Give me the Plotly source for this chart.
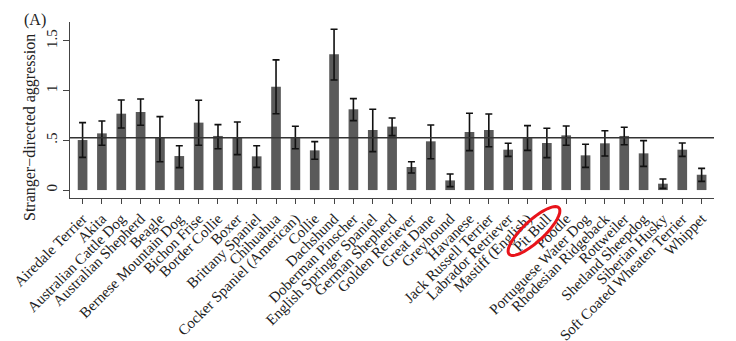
import numpy as np
import plotly.graph_objects as go

breeds = ["Airedale Terrier", "Akita", "Australian Cattle Dog", "Australian Shepherd", "Beagle",
          "Bernese Mountain Dog", "Bichon Frise", "Border Collie", "Boxer", "Brittany Spaniel",
          "Chihuahua", "Cocker Spaniel (American)", "Collie", "Dachshund", "Doberman Pinscher",
          "English Springer Spaniel", "German Shepherd", "Golden Retriever", "Great Dane", "Greyhound",
          "Havanese", "Jack Russell Terrier", "Labrador Retriever", "Mastiff (English)", "Pit Bull",
          "Poodle", "Portuguese Water Dog", "Rhodesian Ridgeback", "Rottweiler", "Shetland Sheepdog",
          "Siberian Husky", "Soft Coated Wheaten Terrier", "Whippet"]
means = [0.503, 0.570, 0.768, 0.785, 0.527, 0.342, 0.678, 0.544, 0.527, 0.339,
         1.040, 0.523, 0.399, 1.366, 0.812, 0.604, 0.638, 0.232, 0.490, 0.097,
         0.584, 0.604, 0.406, 0.523, 0.473, 0.550, 0.349, 0.470, 0.544, 0.369,
         0.064, 0.406, 0.154]
upper = [0.678, 0.695, 0.906, 0.916, 0.738, 0.446, 0.903, 0.658, 0.685, 0.446,
         1.309, 0.641, 0.487, 1.617, 0.919, 0.812, 0.725, 0.285, 0.654, 0.161,
         0.772, 0.765, 0.470, 0.648, 0.621, 0.644, 0.460, 0.597, 0.631, 0.497,
         0.111, 0.473, 0.218]
lower = [0.329, 0.450, 0.624, 0.651, 0.285, 0.225, 0.450, 0.416, 0.356, 0.228,
         0.768, 0.416, 0.309, 1.107, 0.698, 0.386, 0.547, 0.171, 0.315, 0.034,
         0.396, 0.436, 0.339, 0.399, 0.326, 0.450, 0.228, 0.342, 0.456, 0.238,
         0.017, 0.339, 0.087]
overall_mean = 0.527
ytick_vals = [0, 0.5, 1, 1.5]
ytick_text = ["0", ".5", "1", "1.5"]

err_plus = [u - m for u, m in zip(upper, means)]
err_minus = [m - l for m, l in zip(means, lower)]

W, H = 736, 341
ML, MR, MT, MB = 70, 22, 22, 143
PW, PH = W - ML - MR, H - MT - MB
FONT = "Liberation Serif, Times New Roman, serif"

fig = go.Figure()
fig.add_trace(go.Bar(
    x=list(range(len(breeds))), y=means, width=0.5,
    marker=dict(color="#5a5a5a", line=dict(width=0)),
    error_y=dict(type="data", symmetric=False, array=err_plus, arrayminus=err_minus,
                 color="#111111", thickness=1.6, width=3.5),
))

fig.add_shape(type="line", xref="paper", yref="y", x0=0, x1=1, y0=overall_mean, y1=overall_mean,
              line=dict(color="#333333", width=1.5))

# red hand-drawn-style ellipse around "Pit Bull" label (pixel-space decoration)
cx, cy, a, b, ang = 534, 231, 34, 10.5, np.deg2rad(43)
t = np.linspace(0, 2 * np.pi, 60)
px = cx + a * np.cos(t) * np.cos(ang) + b * np.sin(t) * np.sin(ang)
py = cy - a * np.cos(t) * np.sin(ang) + b * np.sin(t) * np.cos(ang)
xs = (px - ML) / PW
ys = (MT + PH - py) / PH
path = "M " + " L ".join(f"{x:.4f},{y:.4f}" for x, y in zip(xs, ys)) + " Z"
fig.add_shape(type="path", xref="paper", yref="paper", path=path,
              line=dict(color="#e8141b", width=3))

fig.add_annotation(text="(A)", xref="paper", yref="paper",
                   x=(22 - ML) / PW, y=(MT + PH - 20) / PH, xanchor="left", yanchor="middle",
                   showarrow=False, font=dict(family=FONT, size=16, color="#222"))
fig.add_annotation(text="Stranger\u2212directed aggression", xref="paper", yref="paper",
                   x=(30 - ML) / PW, y=(MT + PH - 128) / PH, xanchor="center", yanchor="middle",
                   textangle=-90, showarrow=False, font=dict(family=FONT, size=16, color="#222"))

fig.update_layout(
    width=W, height=H, margin=dict(l=ML, r=MR, t=MT, b=MB, autoexpand=False),
    paper_bgcolor="white", plot_bgcolor="white", showlegend=False,
    font=dict(family=FONT, color="#222"),
    bargap=0.5,
)
fig.update_xaxes(range=[-0.65, len(breeds) - 1 + 0.64], tickmode="array",
                 tickvals=list(range(len(breeds))), ticktext=breeds, tickangle=-45,
                 showline=True, linecolor="#444", linewidth=1.2, ticks="outside", ticklen=5,
                 tickcolor="#444", showgrid=False, zeroline=False, tickfont=dict(size=15),
                 automargin=False)
fig.update_yaxes(range=[-0.08, 1.69], tickmode="array", tickvals=ytick_vals, ticktext=ytick_text,
                 tickangle=-90, showline=True, linecolor="#444", linewidth=1.2, ticks="outside",
                 ticklen=6, tickcolor="#444", showgrid=False, zeroline=False,
                 tickfont=dict(size=15), automargin=False)

fig.write_html("out.html")
